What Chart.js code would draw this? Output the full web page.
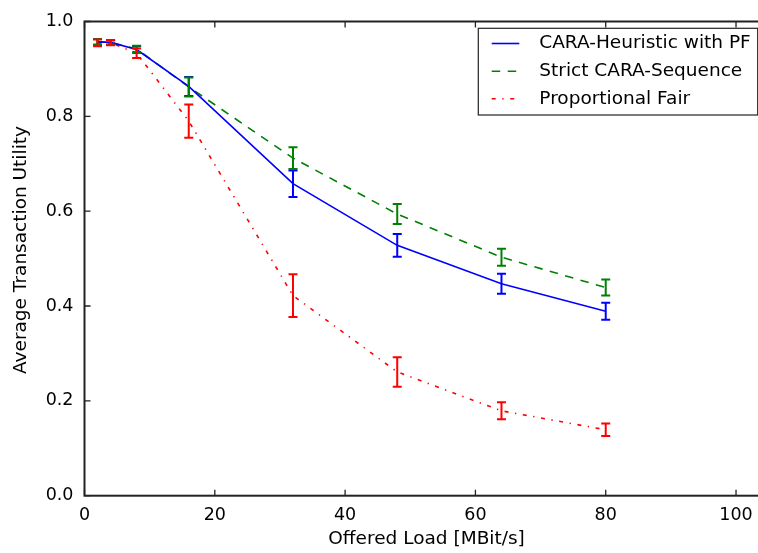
<!DOCTYPE html>
<html>
<head>
<meta charset="utf-8">
<script src="https://cdn.jsdelivr.net/npm/chart.js@4/dist/chart.umd.min.js"></script>
<style>
html,body{margin:0;padding:0;background:#fff;overflow:hidden;}
canvas{display:block;}
</style>
</head>
<body>
<canvas id="c" width="770" height="553"></canvas>
<script>
// ---- data ----
const loads = [2, 4, 8, 16, 32, 48, 64, 80];
const heuristicMean = [0.957, 0.956, 0.941, 0.863, 0.658, 0.528, 0.447, 0.389];
const heuristicErr  = [0.006, 0.005, 0.007, 0.020, 0.028, 0.024, 0.021, 0.018];
const strictMean    = [0.957, 0.956, 0.942, 0.862, 0.712, 0.594, 0.503, 0.439];
const strictErr     = [0.006, 0.005, 0.007, 0.020, 0.023, 0.021, 0.018, 0.017];
const pfMean        = [0.955, 0.955, 0.933, 0.790, 0.422, 0.261, 0.179, 0.139];
const pfErr         = [0.007, 0.005, 0.010, 0.035, 0.045, 0.031, 0.018, 0.013];
const seriesLabels  = ['CARA-Heuristic with PF', 'Strict CARA-Sequence', 'Proportional Fair'];
const xTicks = [0, 20, 40, 60, 80, 100];
const yTicks = [0.0, 0.2, 0.4, 0.6, 0.8, 1.0];
const xTitle = 'Offered Load [MBit/s]';
const yTitle = 'Average Transaction Utility';

const FONT = 'DejaVu Sans';
const AXIS = '#222';
const pts = (m) => loads.map((x, i) => ({x: x, y: m[i]}));

const errorBars = {
  id: 'errorBars',
  afterDatasetsDraw(chart) {
    const ctx = chart.ctx;
    const xs = chart.scales.x, ys = chart.scales.y;
    chart.data.datasets.forEach(ds => {
      ctx.save();
      ctx.strokeStyle = ds.borderColor;
      ctx.lineWidth = 2;
      ctx.setLineDash([]);
      ds.data.forEach((p, i) => {
        const e = ds.errors[i];
        const px = xs.getPixelForValue(p.x);
        const y1 = ys.getPixelForValue(p.y + e);
        const y2 = ys.getPixelForValue(p.y - e);
        ctx.beginPath();
        ctx.moveTo(px, y1); ctx.lineTo(px, y2);
        ctx.moveTo(px - 4.5, y1); ctx.lineTo(px + 4.5, y1);
        ctx.moveTo(px - 4.5, y2); ctx.lineTo(px + 4.5, y2);
        ctx.stroke();
      });
      ctx.restore();
    });
  }
};

const frameAndTicks = {
  id: 'frameAndTicks',
  afterDraw(chart) {
    const ctx = chart.ctx;
    const a = chart.chartArea;
    const xs = chart.scales.x, ys = chart.scales.y;
    ctx.save();
    ctx.strokeStyle = AXIS;
    ctx.lineWidth = 2;
    ctx.setLineDash([]);
    ctx.strokeRect(a.left, a.top, a.right - a.left, a.bottom - a.top);
    ctx.lineWidth = 1.3;
    ctx.beginPath();
    xs.ticks.forEach(t => {
      const px = xs.getPixelForValue(t.value);
      ctx.moveTo(px, a.bottom); ctx.lineTo(px, a.bottom - 6);
      ctx.moveTo(px, a.top); ctx.lineTo(px, a.top + 6);
    });
    ys.ticks.forEach(t => {
      const py = ys.getPixelForValue(t.value);
      ctx.moveTo(a.left, py); ctx.lineTo(a.left + 6, py);
      ctx.moveTo(a.right, py); ctx.lineTo(a.right - 6, py);
    });
    ctx.stroke();

    // y axis title
    ctx.fillStyle = '#000';
    ctx.font = '18.5px "' + FONT + '"';
    ctx.textAlign = 'center';
    ctx.textBaseline = 'middle';
    ctx.save();
    ctx.translate(21, 250);
    ctx.rotate(-Math.PI / 2);
    ctx.fillText(yTitle, 0, 0);
    ctx.restore();

    // legend box
    const lx = 478.3, ly = 28.3, lw = 279.4, lh = 86.7;
    ctx.fillStyle = '#fff';
    ctx.fillRect(lx, ly, lw, lh);
    ctx.lineWidth = 1.2;
    ctx.strokeStyle = AXIS;
    ctx.strokeRect(lx, ly, lw, lh);
    const rows = [43.5, 71.2, 98.7];
    ctx.textAlign = 'left';
    chart.data.datasets.forEach((ds, i) => {
      ctx.strokeStyle = ds.borderColor;
      ctx.lineWidth = ds.borderWidth;
      ctx.setLineDash(ds.borderDash || []);
      ctx.beginPath();
      ctx.moveTo(491.7, rows[i]); ctx.lineTo(519.3, rows[i]);
      ctx.stroke();
      ctx.setLineDash([]);
      ctx.fillStyle = '#000';
      ctx.fillText(ds.label, 539.3, rows[i]);
    });
    ctx.restore();
  }
};

new Chart(document.getElementById('c'), {
  type: 'line',
  data: {
    datasets: [
      {label: seriesLabels[0], data: pts(heuristicMean), errors: heuristicErr,
       borderColor: '#0000ff', borderWidth: 1.6, pointRadius: 0, fill: false, tension: 0},
      {label: seriesLabels[1], data: pts(strictMean), errors: strictErr,
       borderColor: '#008000', borderWidth: 1.6, borderDash: [8.5, 7.5], pointRadius: 0, fill: false, tension: 0},
      {label: seriesLabels[2], data: pts(pfMean), errors: pfErr,
       borderColor: '#ff0000', borderWidth: 1.6, borderDash: [4, 6.6, 1.3, 6.6], pointRadius: 0, fill: false, tension: 0}
    ]
  },
  options: {
    responsive: false,
    animation: false,
    devicePixelRatio: 1,
    layout: {padding: {top: 19, right: 1.4, bottom: 0, left: 0}},
    plugins: {legend: {display: false}, tooltip: {enabled: false}},
    scales: {
      x: {
        type: 'linear', min: 0, max: 105,
        afterBuildTicks: s => { s.ticks = xTicks.map(v => ({value: v})); },
        afterFit: s => { s.height = 57.3; },
        grid: {display: false, drawTicks: false},
        border: {display: false},
        ticks: {padding: 9, color: '#000', font: {family: FONT, size: 17.5},
                callback: v => String(v), maxRotation: 0, autoSkip: false},
        title: {display: true, text: xTitle, color: '#000',
                font: {family: FONT, size: 18.5}, padding: {bottom: 3, top: 0}}
      },
      y: {
        type: 'linear', min: 0, max: 1,
        afterBuildTicks: s => { s.ticks = yTicks.map(v => ({value: v})); },
        afterFit: s => { s.width = 84.5; },
        grid: {display: false, drawTicks: false},
        border: {display: false},
        ticks: {padding: 11, color: '#000', font: {family: FONT, size: 17.5},
                callback: v => Number(v).toFixed(1), autoSkip: false},
        title: {display: false}
      }
    }
  },
  plugins: [errorBars, frameAndTicks]
});
</script>
</body>
</html>
